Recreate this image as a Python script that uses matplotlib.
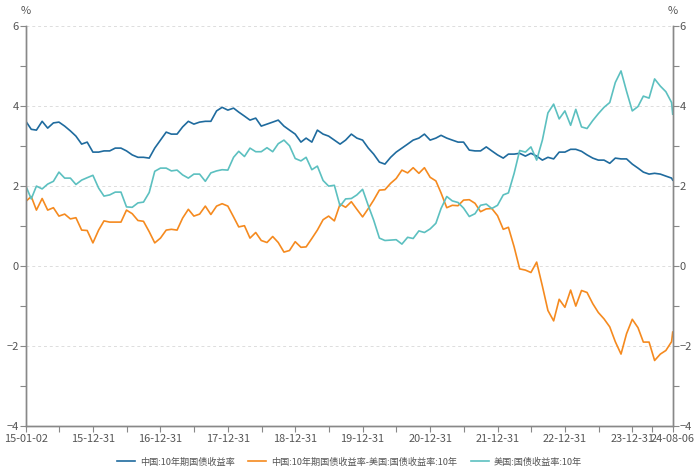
import matplotlib
matplotlib.use("Agg")
import matplotlib.pyplot as plt
import pandas as pd
import numpy as np

plt.rcParams['font.family'] = ['Noto Sans CJK SC', 'DejaVu Sans']

# month-end readings, plus the first and last day of the series
start_date = "2015-01-02"
end_date = "2024-08-06"
month_ends = pd.date_range("2015-01-31", "2024-07-31", freq="ME")

cn_start = 3.62
cn_10y = [
    3.42, 3.40, 3.62, 3.45, 3.58, 3.60, 3.50, 3.38, 3.25, 3.05, 3.10, 2.85,
    2.85, 2.88, 2.88, 2.95, 2.95, 2.88, 2.78, 2.72, 2.72, 2.70, 2.95, 3.15,
    3.35, 3.30, 3.30, 3.48, 3.62, 3.55, 3.60, 3.62, 3.62, 3.88, 3.97, 3.90,
    3.95, 3.85, 3.75, 3.65, 3.70, 3.50, 3.55, 3.60, 3.65, 3.50, 3.40, 3.30,
    3.10, 3.20, 3.10, 3.40, 3.30, 3.25, 3.15, 3.05, 3.15, 3.30, 3.20, 3.15,
    2.95, 2.80, 2.60, 2.55, 2.72, 2.85, 2.95, 3.05, 3.15, 3.20, 3.30, 3.15,
    3.20, 3.27, 3.20, 3.15, 3.10, 3.10, 2.90, 2.88, 2.88, 2.98, 2.88, 2.78,
    2.70, 2.80, 2.80, 2.82, 2.75, 2.82, 2.75, 2.65, 2.72, 2.68, 2.85, 2.85,
    2.92, 2.92, 2.87, 2.78, 2.70, 2.65, 2.65, 2.57, 2.70, 2.68, 2.68, 2.55,
    2.45, 2.35, 2.30, 2.32, 2.30, 2.25, 2.20,
]
cn_end = 2.15

us_start = 2.00
us_10y = [
    1.68, 2.00, 1.93, 2.05, 2.12, 2.35, 2.20, 2.20, 2.04, 2.15, 2.21, 2.27,
    1.95, 1.75, 1.78, 1.85, 1.85, 1.48, 1.47, 1.58, 1.60, 1.84, 2.37, 2.45,
    2.45, 2.38, 2.40, 2.28, 2.20, 2.30, 2.30, 2.12, 2.33, 2.38, 2.41, 2.40,
    2.72, 2.87, 2.74, 2.95, 2.86, 2.86, 2.96, 2.86, 3.06, 3.15, 3.01, 2.69,
    2.63, 2.72, 2.41, 2.50, 2.14, 2.00, 2.02, 1.50, 1.68, 1.69, 1.78, 1.92,
    1.51, 1.15, 0.70, 0.64, 0.65, 0.66, 0.55, 0.72, 0.69, 0.88, 0.84, 0.93,
    1.07, 1.44, 1.74, 1.63, 1.59, 1.45, 1.24, 1.31, 1.52, 1.55, 1.44, 1.52,
    1.78, 1.83, 2.32, 2.89, 2.85, 2.98, 2.65, 3.15, 3.83, 4.05, 3.68, 3.88,
    3.52, 3.92, 3.48, 3.44, 3.64, 3.81, 3.97, 4.09, 4.59, 4.88, 4.37, 3.88,
    3.99, 4.25, 4.20, 4.68, 4.50, 4.36, 4.09,
]
us_end = 3.80

tick_dates = ["2015-01-02", "2015-12-31", "2016-12-31", "2017-12-31", "2018-12-31",
              "2019-12-31", "2020-12-31", "2021-12-31", "2022-12-31", "2023-12-31",
              "2024-08-06"]
tick_labels = ["15-01-02", "15-12-31", "16-12-31", "17-12-31", "18-12-31",
               "19-12-31", "20-12-31", "21-12-31", "22-12-31", "23-12-31",
               "24-08-06"]

names = ["中国:10年期国债收益率", "中国:10年期国债收益率-美国:国债收益率:10年", "美国:国债收益率:10年"]

dates = pd.DatetimeIndex([pd.Timestamp(start_date)]).append(month_ends).append(
    pd.DatetimeIndex([pd.Timestamp(end_date)]))
cn = np.array([cn_start] + cn_10y + [cn_end])
us = np.array([us_start] + us_10y + [us_end])
spread = cn - us

c_blue = "#1f6b9e"
c_orange = "#f58a1f"
c_teal = "#5cc0c0"
grey = "#555555"

fig = plt.figure(figsize=(7, 4.75), dpi=100)
ax = fig.add_axes([0.037, 0.103, 0.924, 0.842])

ax.plot(dates, cn, color=c_blue, lw=1.2, label=names[0])
ax.plot(dates, spread, color=c_orange, lw=1.2, label=names[1])
ax.plot(dates, us, color=c_teal, lw=1.2, label=names[2])

ax.set_ylim(-4, 6)
ax.set_xlim(pd.Timestamp(start_date), pd.Timestamp(end_date))
ax.set_yticks([-4, -2, 0, 2, 4, 6])
ax.set_yticks([-3, -1, 1, 3, 5], minor=True)
for y in [-2, 0, 2, 4, 6]:
    ax.axhline(y, color="#dddddd", lw=0.7, ls=(0, (3, 3)), zorder=0)

tks = pd.to_datetime(tick_dates)
ax.set_xticks(tks)
ax.set_xticklabels(tick_labels)
mids = tks[:-1] + (tks[1:] - tks[:-1]) / 2
ax.set_xticks(mids, minor=True)

ax2 = ax.twinx()
ax2.set_ylim(-4, 6)
ax2.set_yticks([-4, -2, 0, 2, 4, 6])
ax2.set_yticks([-3, -1, 1, 3, 5], minor=True)

for a in (ax, ax2):
    a.spines["top"].set_visible(False)
    for s in ("left", "right", "bottom"):
        a.spines[s].set_color("#888888")
        a.spines[s].set_linewidth(1.0)
    a.tick_params(which="both", colors="#888888", labelcolor=grey, labelsize=8, length=4, width=0.8)
ax.tick_params(axis="x", labelsize=7.9, pad=2)
ax.tick_params(axis="y", pad=1)
ax2.tick_params(axis="y", pad=1)

ax.text(0, 1.025, "%", transform=ax.transAxes, ha="center", va="bottom", fontsize=8, color=grey)
ax.text(1, 1.025, "%", transform=ax.transAxes, ha="center", va="bottom", fontsize=8, color=grey)

ax.legend(loc="center", bbox_to_anchor=(0.5, -0.09), ncol=3, frameon=False,
          fontsize=6.6, labelcolor=grey, handlelength=2.0, columnspacing=1.5,
          handletextpad=0.5, borderaxespad=0, borderpad=0)

fig.savefig("out.png", dpi=100)
